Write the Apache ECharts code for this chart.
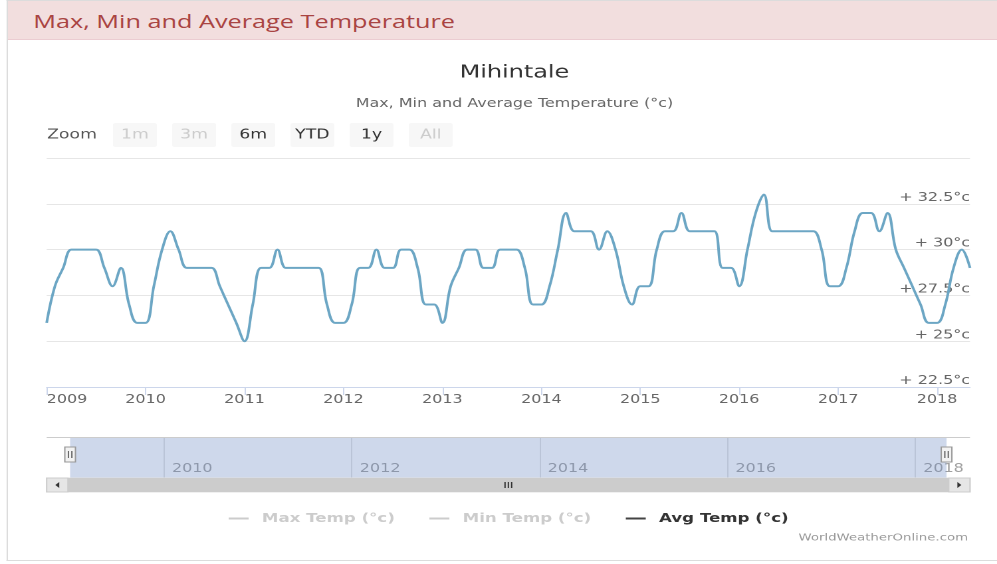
<!DOCTYPE html>
<html>
<head>
<meta charset="utf-8">
<title>Mihintale - Max, Min and Average Temperature</title>
<script src="https://cdn.jsdelivr.net/npm/echarts@6/dist/echarts.min.js"></script>
<style>
  html, body { margin: 0; padding: 0; background: #fff; width: 997px; height: 564px; overflow: hidden; }
  /* The widget is laid out on a 750px-wide stage and stretched to the 997px page width. */
  #stage { position: absolute; left: 0; top: 0; width: 750px; height: 564px;
           transform: scaleX(1.329333); transform-origin: 0 0; }
  #panel { position: absolute; left: 5px; top: 0; width: 745px; height: 561px;
           border: 1px solid #dcdcdc; border-right: none; box-sizing: border-box; }
  #panel .head { height: 38px; background: #f2dede; border-bottom: 1px solid #ebccd1;
                 padding-left: 19px; font: 19px "Open Sans", sans-serif; line-height: 40px;
                 color: #a94442; white-space: nowrap; }
  #chart { position: absolute; left: 0; top: 0; width: 750px; height: 564px; }
</style>
</head>
<body>
<div id="stage">
  <div id="panel"><div class="head">Max, Min and Average Temperature</div></div>
  <div id="chart"></div>
</div>
<script>
// Monthly average temperature (°c), January 2009 onwards.
const firstMonth = '2009-01';
const avgTemp = [
  26, 28, 29, 30, 30, 30, 30, 29, 28, 29, 27, 26,   // 2009
  26, 28, 30, 31, 30, 29, 29, 29, 29, 28, 27, 26,   // 2010
  25, 27, 29, 29, 30, 29, 29, 29, 29, 29, 27, 26,   // 2011
  26, 27, 29, 29, 30, 29, 29, 30, 30, 29, 27, 27,   // 2012
  26, 28, 29, 30, 30, 29, 29, 30, 30, 30, 29, 27,   // 2013
  27, 28, 30, 32, 31, 31, 31, 30, 31, 30, 28, 27,   // 2014
  28, 28, 30, 31, 31, 32, 31, 31, 31, 31, 29, 29,   // 2015
  28, 30, 32, 33, 31, 31, 31, 31, 31, 31, 30, 28,   // 2016
  28, 29, 31, 32, 32, 31, 32, 30, 29, 28, 27, 26,   // 2017
  26, 27, 29, 30, 29                                // 2018
];
// Max and min series are switched off in the legend, so nothing is plotted for them.
const maxTemp = [];
const minTemp = [];
const seriesNames = ['Max Temp (°c)', 'Min Temp (°c)', 'Avg Temp (°c)'];

// Navigator time span (months) and range-selector buttons.
const navFirstMonth = '2008-10';
const navLastMonth = '2018-08';
const zoomButtons = ['1m', '3m', '6m', 'YTD', '1y', 'All'];
const disabledButtons = ['1m', '3m', 'All'];

const chartTitle = 'Mihintale';
const chartSubtitle = 'Max, Min and Average Temperature (°c)';
const creditText = 'WorldWeatherOnline.com';

function monthRange(from, to) {
  const out = [];
  let [y, m] = from.split('-').map(Number);
  const [ty, tm] = to.split('-').map(Number);
  while (y < ty || (y === ty && m <= tm)) {
    out.push(y + '-' + String(m).padStart(2, '0'));
    m += 1;
    if (m > 12) { m = 1; y += 1; }
  }
  return out;
}
function addMonths(ym, n) {
  let [y, m] = ym.split('-').map(Number);
  const t = y * 12 + (m - 1) + n;
  return Math.floor(t / 12) + '-' + String(t % 12 + 1).padStart(2, '0');
}

const months = monthRange(firstMonth, addMonths(firstMonth, avgTemp.length - 1));
const navMonths = monthRange(navFirstMonth, navLastMonth);
const selection = [navMonths.indexOf(months[0]), navMonths.indexOf(months[months.length - 1])];

const isJanuary = (i, v) => v.slice(5) === '01';
const isEvenJanuary = (i, v) => v.slice(5) === '01' && Number(v.slice(0, 4)) % 2 === 0;

const FONT = '"DejaVu Sans", Verdana, sans-serif';
const LINE_COLOR = '#6ca6c4';

// Navigator: selected-range mask, handles and scrollbar, placed through the navigator axis.
function renderNavigator(params, api) {
  const cs = params.coordSys;
  const x0 = api.coord([api.value(0), 0])[0];
  const x1 = api.coord([api.value(1), 0])[0];
  const top = cs.y, bottom = cs.y + cs.height;
  const left = cs.x, right = cs.x + cs.width;
  const sbH = 14, btnW = 16;

  function handle(x) {
    const hy = top + 10, hh = 15, hw = 8;
    return [
      { type: 'rect', shape: { x: x - hw / 2, y: hy, width: hw, height: hh },
        style: { fill: '#f2f2f2', stroke: '#999999', lineWidth: 1 } },
      { type: 'line', shape: { x1: x - 1.3, y1: hy + 4, x2: x - 1.3, y2: hy + hh - 4 },
        style: { stroke: '#666666', lineWidth: 1 } },
      { type: 'line', shape: { x1: x + 1.3, y1: hy + 4, x2: x + 1.3, y2: hy + hh - 4 },
        style: { stroke: '#666666', lineWidth: 1 } }
    ];
  }
  const midX = (left + btnW + right - btnW) / 2;
  const sy = bottom;
  const children = [
    { type: 'rect', shape: { x: x0, y: top, width: x1 - x0, height: cs.height },
      style: { fill: 'rgba(102,133,194,0.32)' } },
    { type: 'line', shape: { x1: left, y1: top + 0.5, x2: right, y2: top + 0.5 },
      style: { stroke: '#cccccc', lineWidth: 1 } },
    // scrollbar
    { type: 'rect', shape: { x: left, y: sy, width: cs.width, height: sbH },
      style: { fill: '#f2f2f2', stroke: '#e0e0e0', lineWidth: 1 } },
    { type: 'rect', shape: { x: left + btnW, y: sy, width: cs.width - 2 * btnW, height: sbH },
      style: { fill: '#cccccc' } },
    { type: 'rect', shape: { x: left, y: sy, width: btnW, height: sbH },
      style: { fill: '#e6e6e6', stroke: '#cccccc', lineWidth: 1 } },
    { type: 'rect', shape: { x: right - btnW, y: sy, width: btnW, height: sbH },
      style: { fill: '#e6e6e6', stroke: '#cccccc', lineWidth: 1 } },
    { type: 'polygon', shape: { points: [[left + btnW / 2 + 1.5, sy + 4], [left + btnW / 2 + 1.5, sy + sbH - 4], [left + btnW / 2 - 1.5, sy + sbH / 2]] },
      style: { fill: '#333333' } },
    { type: 'polygon', shape: { points: [[right - btnW / 2 - 1.5, sy + 4], [right - btnW / 2 - 1.5, sy + sbH - 4], [right - btnW / 2 + 1.5, sy + sbH / 2]] },
      style: { fill: '#333333' } }
  ];
  [-2.5, 0, 2.5].forEach(d => children.push({
    type: 'line', shape: { x1: midX + d, y1: sy + 4, x2: midX + d, y2: sy + sbH - 4 },
    style: { stroke: '#333333', lineWidth: 1 }
  }));
  return { type: 'group', children: children.concat(handle(x0), handle(x1)) };
}

// Range selector buttons
const buttonGraphics = [{
  type: 'text', x: 35.4, y: 135,
  style: { text: 'Zoom', font: '13px ' + FONT, fill: '#555555',
           align: 'left', verticalAlign: 'middle', textAlign: 'left', textVerticalAlign: 'middle' },
  silent: true
}];
zoomButtons.forEach((label, i) => {
  const cx = 101.5 + 44.5 * i;
  const off = disabledButtons.includes(label);
  buttonGraphics.push(
    { type: 'rect', shape: { x: cx - 16.5, y: 123, width: 33, height: 24, r: 2 },
      style: { fill: '#f7f7f7' }, silent: true },
    { type: 'text', x: cx, y: 135,
      style: { text: label, font: '13px ' + FONT, fill: off ? '#cccccc' : '#333333',
               align: 'center', verticalAlign: 'middle', textAlign: 'center', textVerticalAlign: 'middle' },
      silent: true }
  );
});
buttonGraphics.push({
  type: 'text', x: 728.2, y: 538,
  style: { text: creditText, font: '10px ' + FONT, fill: '#999999',
           align: 'right', verticalAlign: 'middle', textAlign: 'right', textVerticalAlign: 'middle' },
  silent: true
});

const chart = echarts.init(document.getElementById('chart'), null, { renderer: 'canvas', devicePixelRatio: 2 });
chart.setOption({
  animation: false,
  backgroundColor: 'transparent',
  textStyle: { fontFamily: FONT },
  title: [
    { text: chartTitle, left: 382, top: 59, textAlign: 'center',
      textStyle: { fontSize: 18, fontWeight: 'normal', color: '#333333', fontFamily: FONT } },
    { text: chartSubtitle, left: 382, top: 93, textAlign: 'center',
      textStyle: { fontSize: 12, fontWeight: 'normal', color: '#666666', fontFamily: FONT } }
  ],
  legend: {
    data: seriesNames,
    left: 167, top: 507,
    icon: 'rect', itemWidth: 15, itemHeight: 2, itemGap: 26,
    selected: { [seriesNames[0]]: false, [seriesNames[1]]: false },
    inactiveColor: '#cccccc',
    itemStyle: { color: '#444444', borderWidth: 0 },
    textStyle: { fontFamily: FONT, fontWeight: 'bold', fontSize: 12.5, color: '#333333', padding: [0, 0, 0, 5] }
  },
  grid: [
    { left: 35.1, top: 158, width: 694.6, height: 229, containLabel: false, outerBoundsMode: 'none' },
    { left: 35.1, top: 437, width: 694.6, height: 41, containLabel: false, outerBoundsMode: 'none' }
  ],
  xAxis: [
    {
      type: 'category', gridIndex: 0, data: months, boundaryGap: false,
      axisLine: { lineStyle: { color: '#ccd6eb', width: 1 } },
      axisTick: { interval: isJanuary, length: 8, lineStyle: { color: '#ccd6eb' } },
      axisLabel: { interval: isJanuary, formatter: v => v.slice(0, 4), color: '#666666',
                   fontSize: 12, fontFamily: FONT, margin: 7, alignMinLabel: 'left' },
      splitLine: { show: false }
    },
    {
      type: 'category', gridIndex: 1, data: navMonths, boundaryGap: false,
      axisLine: { show: false }, axisTick: { show: false },
      axisLabel: { inside: true, interval: isEvenJanuary, formatter: v => v.slice(0, 4),
                   color: '#a0a0a0', fontSize: 12, fontFamily: FONT, align: 'left',
                   verticalAlign: 'middle', margin: 9, padding: [0, 0, 0, 6] },
      splitLine: { show: true, interval: isEvenJanuary, lineStyle: { color: '#e2e2e2' } }
    }
  ],
  yAxis: [
    {
      type: 'value', gridIndex: 0, min: 22.5, max: 35, interval: 2.5, position: 'right',
      axisLine: { show: false }, axisTick: { show: false },
      splitLine: { lineStyle: { color: '#e6e6e6' } },
      axisLabel: { inside: true, margin: 0, verticalAlign: 'bottom', color: '#666666',
                   fontSize: 12, fontFamily: FONT,
                   formatter: v => (v >= 35 ? '' : '+ ' + v + '°c') }
    },
    { type: 'value', gridIndex: 1, min: 0, max: 1, show: false }
  ],
  series: [
    { name: seriesNames[0], type: 'line', data: maxTemp, showSymbol: false,
      lineStyle: { color: '#444444' }, itemStyle: { color: '#444444' } },
    { name: seriesNames[1], type: 'line', data: minTemp, showSymbol: false,
      lineStyle: { color: '#444444' }, itemStyle: { color: '#444444' } },
    { name: seriesNames[2], type: 'line', data: avgTemp, smooth: 0.4, showSymbol: false,
      lineStyle: { color: LINE_COLOR, width: 2 }, itemStyle: { color: '#444444' }, z: 3 },
    { type: 'custom', xAxisIndex: 1, yAxisIndex: 1, silent: true,
      data: [[selection[0], selection[1], 0]], encode: { x: [0, 1], y: 2 },
      renderItem: renderNavigator, z: 2 }
  ],
  graphic: buttonGraphics
});
</script>
</body>
</html>
